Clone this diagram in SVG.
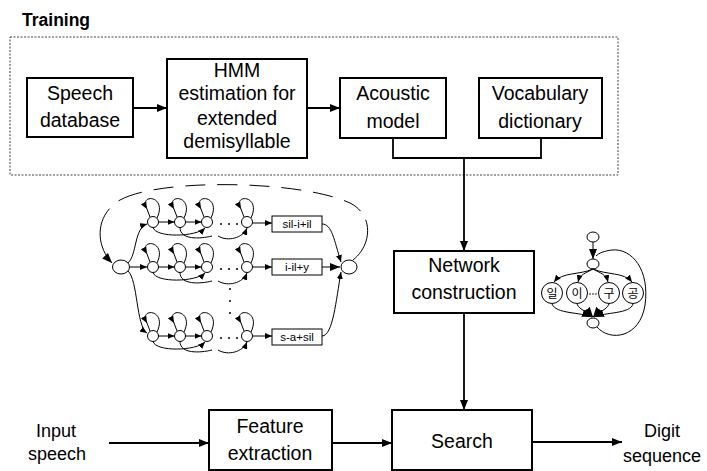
<svg xmlns="http://www.w3.org/2000/svg" width="707" height="471" viewBox="0 0 707 471">
<defs>
<style>
.box{fill:#fff;stroke:#000;stroke-width:2}
.lbl{font-family:"Liberation Sans",Arial,sans-serif;font-size:19.5px;text-anchor:middle;fill:#000}
.out{font-family:"Liberation Sans",Arial,sans-serif;font-size:18px;text-anchor:middle;fill:#000}
.conn{fill:none;stroke:#000;stroke-width:1.8}
.thin{fill:none;stroke:#000;stroke-width:1}
.st{fill:#fff;stroke:#000;stroke-width:1}
.sm{font-family:"Liberation Sans",Arial,sans-serif;font-size:11.5px;text-anchor:middle;fill:#000}
.kr{font-family:"Liberation Sans","Noto Sans CJK KR",sans-serif;font-size:12px;text-anchor:middle;fill:#000}
.dot{fill:#000}
</style>
<marker id="ab" viewBox="0 0 10 8" refX="10" refY="4" markerWidth="10" markerHeight="8" markerUnits="userSpaceOnUse" orient="auto"><path d="M0,0 L10,4 L0,8 z" fill="#000"/></marker>
<marker id="as" viewBox="0 0 7 6" refX="7" refY="3" markerWidth="7" markerHeight="6" markerUnits="userSpaceOnUse" orient="auto"><path d="M0,0 L7,3 L0,6 z" fill="#000"/></marker>
</defs>
<rect width="707" height="471" fill="#fff"/>

<g id="training">
<text x="22" y="26" font-family="Liberation Sans, Arial, sans-serif" font-size="17.5" font-weight="bold" fill="#000">Training</text>
<rect x="10" y="37" width="608" height="138" fill="none" stroke="#444" stroke-width="1" stroke-dasharray="2 1.5"/>
</g>

<g id="connectors">
<path class="conn" d="M133,108 H167" marker-end="url(#ab)"/>
<path class="conn" d="M307,108 H340" marker-end="url(#ab)"/>
<path class="conn" d="M393,138 V158 H541 V138"/>
<path class="conn" d="M464,158 V251" marker-end="url(#ab)"/>
<path class="conn" d="M464,313 V410" marker-end="url(#ab)"/>
<path class="conn" d="M109,443 H209" marker-end="url(#ab)"/>
<path class="conn" d="M332,443 H392" marker-end="url(#ab)"/>
<path class="conn" d="M532,442 H622" marker-end="url(#ab)"/>
</g>

<g id="speech-database">
<rect class="box" x="27" y="78" width="106" height="59"/>
<text class="lbl" x="80" y="100">Speech</text>
<text class="lbl" x="80" y="127">database</text>
</g>
<g id="hmm-estimation">
<rect class="box" x="167" y="59" width="140" height="99"/>
<text class="lbl" x="237" y="77">HMM</text>
<text class="lbl" x="237" y="100">estimation for</text>
<text class="lbl" x="237" y="125">extended</text>
<text class="lbl" x="237" y="148">demisyllable</text>
</g>
<g id="acoustic-model">
<rect class="box" x="340" y="78" width="106" height="60"/>
<text class="lbl" x="393" y="100">Acoustic</text>
<text class="lbl" x="393" y="128">model</text>
</g>
<g id="vocabulary-dictionary">
<rect class="box" x="479" y="78" width="123" height="60"/>
<text class="lbl" x="540" y="100">Vocabulary</text>
<text class="lbl" x="540" y="128">dictionary</text>
</g>
<g id="network-construction">
<rect class="box" x="394" y="251" width="140" height="62"/>
<text class="lbl" x="464" y="272">Network</text>
<text class="lbl" x="464" y="299">construction</text>
</g>
<g id="search">
<rect class="box" x="392" y="410" width="140" height="60"/>
<text class="lbl" x="462" y="448">Search</text>
</g>
<g id="feature-extraction">
<rect class="box" x="209" y="410" width="123" height="60"/>
<text class="lbl" x="270" y="433">Feature</text>
<text class="lbl" x="270" y="460">extraction</text>
</g>
<g id="input-speech">
<text class="out" x="56" y="437">Input</text>
<text class="out" x="57" y="460">speech</text>
</g>
<g id="digit-sequence">
<text class="out" x="662" y="437">Digit</text>
<text class="out" x="662" y="462">sequence</text>
</g>

<g id="hmm-network">
<path class="thin" d="M353,260 C372,245 374,215 350,203 C300,180 160,178 120,200 C95,215 95,245 112,263" stroke-dasharray="45 10 20 12 20 12 20 12 20 12 20 12 20 12 20 12 25 12 60" marker-end="url(#ab)"/>
<ellipse class="st" cx="121" cy="267" rx="8.5" ry="7"/>
<ellipse class="st" cx="349" cy="267" rx="8" ry="7"/>
<path class="thin" d="M128,263 C137,255 134,228 147,224" marker-end="url(#as)"/>
<path class="thin" d="M129.5,267 H147" marker-end="url(#as)"/>
<path class="thin" d="M128,271 C138,280 136,326 147,333" marker-end="url(#as)"/>
<g id="row1">
<path class="thin" d="M157,218 C168,195 138,193 147,209" marker-end="url(#as)"/><path class="thin" d="M147,209 L150,217"/>
<path class="thin" d="M184,218 C195,195 165,193 174,209" marker-end="url(#as)"/><path class="thin" d="M174,209 L177,217"/>
<path class="thin" d="M211,218 C222,195 192,193 201,209" marker-end="url(#as)"/><path class="thin" d="M201,209 L204,217"/>
<path class="thin" d="M251,218 C262,195 232,193 241,209" marker-end="url(#as)"/><path class="thin" d="M241,209 L244,217"/>
<circle class="st" cx="153" cy="222" r="5.5"/><circle class="st" cx="180" cy="222" r="5.5"/><circle class="st" cx="207" cy="222" r="5.5"/><circle class="st" cx="247" cy="222" r="5.5"/>
<path class="thin" d="M158.5,222 H174.5" marker-end="url(#as)"/>
<path class="thin" d="M185.5,222 H201.5" marker-end="url(#as)"/>
<path class="thin" d="M153,227.5 C156,238 196,237 205,228" marker-end="url(#as)"/>
<path class="thin" d="M180,227.5 C180,240 200,239 212,236"/>
<path class="thin" d="M218,236 C228,242 243,238 247,228" marker-end="url(#as)"/>
<circle class="dot" cx="221" cy="224" r="1"/><circle class="dot" cx="229" cy="224" r="1"/><circle class="dot" cx="237" cy="224" r="1"/>
<path class="thin" d="M252.5,223 H272" marker-end="url(#as)"/>
<rect x="272" y="216" width="50" height="16" fill="#fff" stroke="#000" stroke-width="1"/>
<text class="sm" x="297" y="228">sil-i+il</text>
<path class="thin" d="M322,224 C332,224 334,240 341,262" marker-end="url(#as)"/>
</g>
<g id="row2">
<path class="thin" d="M157,263 C168,240 138,238 147,254" marker-end="url(#as)"/><path class="thin" d="M147,254 L150,262"/>
<path class="thin" d="M184,263 C195,240 165,238 174,254" marker-end="url(#as)"/><path class="thin" d="M174,254 L177,262"/>
<path class="thin" d="M211,263 C222,240 192,238 201,254" marker-end="url(#as)"/><path class="thin" d="M201,254 L204,262"/>
<path class="thin" d="M251,263 C262,240 232,238 241,254" marker-end="url(#as)"/><path class="thin" d="M241,254 L244,262"/>
<circle class="st" cx="153" cy="267" r="5.5"/><circle class="st" cx="180" cy="267" r="5.5"/><circle class="st" cx="207" cy="267" r="5.5"/><circle class="st" cx="247" cy="267" r="5.5"/>
<path class="thin" d="M158.5,267 H174.5" marker-end="url(#as)"/>
<path class="thin" d="M185.5,267 H201.5" marker-end="url(#as)"/>
<path class="thin" d="M153,272.5 C156,283 196,282 205,273" marker-end="url(#as)"/>
<path class="thin" d="M180,272.5 C180,285 200,284 212,281"/>
<path class="thin" d="M218,281 C228,287 243,283 247,273" marker-end="url(#as)"/>
<circle class="dot" cx="221" cy="269" r="1"/><circle class="dot" cx="229" cy="269" r="1"/><circle class="dot" cx="237" cy="269" r="1"/>
<path class="thin" d="M252.5,267 H272" marker-end="url(#as)"/>
<rect x="272" y="259" width="50" height="16" fill="#fff" stroke="#000" stroke-width="1"/>
<text class="sm" x="297" y="271">i-il+y</text>
<path class="thin" d="M322,267 H340" marker-end="url(#ab)"/>
</g>
<circle class="dot" cx="230" cy="289" r="1"/><circle class="dot" cx="230" cy="301" r="1"/><circle class="dot" cx="230" cy="313" r="1"/>
<g id="row3">
<path class="thin" d="M157,332 C168,309 138,307 147,323" marker-end="url(#as)"/><path class="thin" d="M147,323 L150,331"/>
<path class="thin" d="M184,332 C195,309 165,307 174,323" marker-end="url(#as)"/><path class="thin" d="M174,323 L177,331"/>
<path class="thin" d="M211,332 C222,309 192,307 201,323" marker-end="url(#as)"/><path class="thin" d="M201,323 L204,331"/>
<path class="thin" d="M251,332 C262,309 232,307 241,323" marker-end="url(#as)"/><path class="thin" d="M241,323 L244,331"/>
<circle class="st" cx="153" cy="336" r="5.5"/><circle class="st" cx="180" cy="336" r="5.5"/><circle class="st" cx="207" cy="336" r="5.5"/><circle class="st" cx="247" cy="336" r="5.5"/>
<path class="thin" d="M158.5,336 H174.5" marker-end="url(#as)"/>
<path class="thin" d="M185.5,336 H201.5" marker-end="url(#as)"/>
<path class="thin" d="M153,341.5 C156,352 196,351 205,342" marker-end="url(#as)"/>
<path class="thin" d="M180,341.5 C180,354 200,353 212,350"/>
<path class="thin" d="M218,350 C228,356 243,352 247,342" marker-end="url(#as)"/>
<circle class="dot" cx="221" cy="338" r="1"/><circle class="dot" cx="229" cy="338" r="1"/><circle class="dot" cx="237" cy="338" r="1"/>
<path class="thin" d="M252.5,336 H272" marker-end="url(#as)"/>
<rect x="272" y="329" width="50" height="16" fill="#fff" stroke="#000" stroke-width="1"/>
<text class="sm" x="297" y="341">s-a+sil</text>
<path class="thin" d="M322,336 C333,336 336,300 341,272" marker-end="url(#as)"/>
</g>
</g>

<g id="digit-network">
<ellipse class="st" cx="593" cy="237" rx="6" ry="5"/>
<path class="thin" d="M593,242 V259" marker-end="url(#ab)"/>
<path class="thin" d="M597,327 C610,342 640,338 645,305 C650,270 632,248 612,250 C604,251 599,253 596,256"/>
<ellipse class="st" cx="593" cy="264" rx="6" ry="5"/>
<path class="thin" d="M593,269 C580,275 562,272 554,282" marker-end="url(#as)"/>
<path class="thin" d="M593,269 C586,273 580,274 578,282" marker-end="url(#as)"/>
<path class="thin" d="M593,269 C600,273 606,274 608,282" marker-end="url(#as)"/>
<path class="thin" d="M593,269 C606,275 624,272 632,282" marker-end="url(#as)"/>
<path class="thin" d="M552,304 C556,314 580,312 592,317" marker-end="url(#ab)"/>
<path class="thin" d="M577,304 C580,311 588,311 593,317" marker-end="url(#ab)"/>
<path class="thin" d="M609,304 C606,311 598,311 593,317" marker-end="url(#ab)"/>
<path class="thin" d="M633,304 C630,314 606,312 594,317" marker-end="url(#ab)"/>
<ellipse class="st" cx="593" cy="323" rx="6" ry="5"/>
<circle class="st" cx="552" cy="293" r="10.5"/><text class="kr" x="552" y="297.5">일</text>
<circle class="st" cx="577" cy="293" r="10.5"/><text class="kr" x="577" y="297.5">이</text>
<circle class="st" cx="609" cy="293" r="10.5"/><text class="kr" x="609" y="297.5">구</text>
<circle class="st" cx="633" cy="293" r="10.5"/><text class="kr" x="633" y="297.5">공</text>
<circle class="dot" cx="590" cy="294" r="0.8"/><circle class="dot" cx="593" cy="294" r="0.8"/><circle class="dot" cx="596" cy="294" r="0.8"/>
</g>
</svg>
